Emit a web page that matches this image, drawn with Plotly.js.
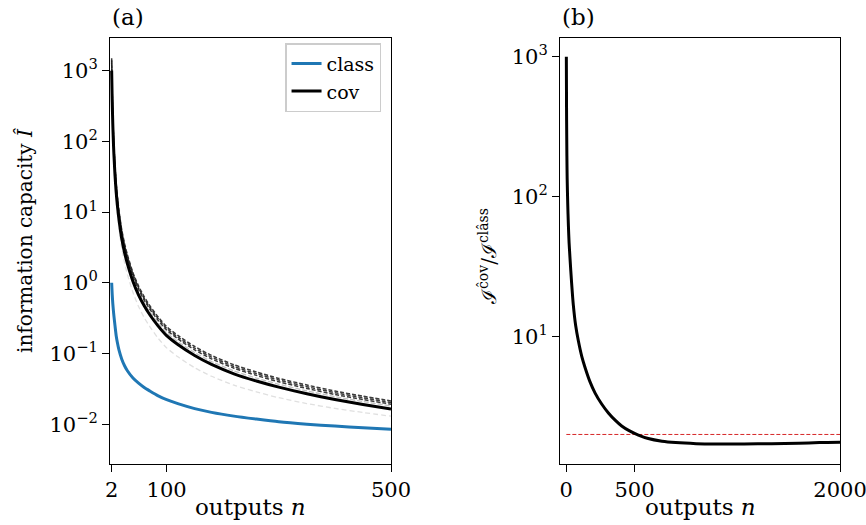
<!DOCTYPE html>
<html><head><meta charset="utf-8">
<script src="https://cdn.plot.ly/plotly-3.0.1.min.js"></script>
<style>html,body{margin:0;padding:0;background:#fff}#chart{width:866px;height:525px}</style>
</head><body><div id="chart"></div>
<script>
// ---- data ----
const outputsN = [2,3,4,5,6,8,10,12,15,20,25,30,40,50,60,70,85,100,120,150,180,220,260,300,350,400,450,500];
const capClass = [1.0,0.68,0.51,0.41,0.34,0.245,0.18,0.145,0.112,0.083,0.067,0.057,0.045,0.038,0.033,0.0295,0.0252,0.0222,0.0195,0.0166,0.0147,0.0130,0.0118,0.0108,0.0100,0.0094,0.0089,0.0085];
const capCov = [1000,363,177,101,65,32.7,19.2,12.8,7.9,4.18,2.67,1.86,1.04,0.668,0.473,0.353,0.244,0.179,0.134,0.0936,0.070,0.0516,0.0408,0.0334,0.0269,0.0223,0.0190,0.0164];
const capCovDashA = [1500,526,251,141,90,44.5,25.9,17.15,10.59,5.60,3.58,2.49,1.39,0.895,0.634,0.473,0.327,0.240,0.180,0.1254,0.0938,0.0691,0.0547,0.0444,0.0358,0.0294,0.0249,0.0213];
const capCovDashB = [1400,494,235,132,84.5,42.2,24.6,16.3,10.0,5.31,3.39,2.36,1.32,0.848,0.601,0.448,0.310,0.227,0.170,0.1189,0.0889,0.0655,0.0518,0.0421,0.0339,0.0279,0.02366,0.0203];
const capCovDashC = [1300,461,221,124,79.3,39.6,23.0,15.4,9.48,5.02,3.20,2.23,1.25,0.802,0.568,0.424,0.293,0.215,0.161,0.1123,0.084,0.0619,0.049,0.0397,0.0320,0.0263,0.02233,0.0192];
const capCovLightA = [1150,410,198,112,71.5,36.0,21.1,14.1,8.69,4.60,2.94,2.05,1.14,0.735,0.520,0.388,0.268,0.197,0.147,0.103,0.077,0.0568,0.0449,0.0367,0.0296,0.0245,0.0209,0.0181];
const capCovLightB = [850,298,142,79.8,50.7,25.2,14.6,9.6,5.85,3.05,1.92,1.32,0.728,0.461,0.322,0.240,0.1635,0.120,0.0898,0.0627,0.0476,0.0356,0.0286,0.0237,0.0196,0.0167,0.01463,0.01296];
const ratioN = [2,3,4,6,8,12,17,22,29,40,53,70,90,115,139,175,212,260,309,360,406,460,528,600,700,800,950,1100,1300,1500,1700,1850,2000];
const ratioCovClass = [1000,540,350,195,135,90,62,47,36,24.5,16.8,12.0,9.3,7.2,6.0,4.75,3.95,3.3,2.85,2.52,2.3,2.13,1.98,1.87,1.79,1.75,1.72,1.71,1.71,1.72,1.73,1.75,1.76];
const ratioRef = 2;

const xTicksA = [2, 100, 500];
const xTicksB = [0, 500, 2000];
const yTicksA = [1e-2, 1e-1, 1e0, 1e1, 1e2, 1e3];
const yTextA = ['10<sup>\u22122</sup>','10<sup>\u22121</sup>','10<sup>0</sup>','10<sup>1</sup>','10<sup>2</sup>','10<sup>3</sup>'];
const yTicksB = [1e1, 1e2, 1e3];
const yTextB = ['10<sup>1</sup>','10<sup>2</sup>','10<sup>3</sup>'];

// ---- axis config ----
const FONT = '"DejaVu Serif", serif';
const tickFont = {family: FONT, size: 21, color: '#000'};
const baseAxis = {
  showline: true, mirror: true, linecolor: '#000', linewidth: 1,
  ticks: 'outside', ticklen: 7, tickwidth: 1, tickcolor: '#000', ticklabeloverflow: 'allow',
  showgrid: false, zeroline: false, tickfont: tickFont, fixedrange: true
};
const rangeA = [-2.557, 3.461];
const rangeB = [0.093, 3.134];
const xRangeA = [-1, 500];
const xRangeB = [-44, 2000];
const domX1 = [0.127, 0.4515];
const domX2 = [0.6467, 0.97];
const domY = [0.117, 0.9276];

// minor log tick positions (2..9 x 10^k) inside an axis range
function minorVals(range) {
  const v = [];
  for (let e = -4; e <= 4; e++) for (let m = 2; m <= 9; m++) {
    const lv = Math.log10(m * Math.pow(10, e));
    if (lv > range[0] && lv < range[1]) v.push(m * Math.pow(10, e));
  }
  return v;
}
// x position 2 px left of the axis line (centre of a 4 px outside tick)
function tickCentreX(xr, dom) {
  const pxPerUnit = (dom[1] - dom[0]) * 866 / (xr[1] - xr[0]);
  return xr[0] - 2 / pxPerUnit;
}

const traces = [];
function dashed(y, color, width, dash) {
  traces.push({x: outputsN, y: y, type: 'scatter', mode: 'lines', showlegend: false,
    line: {color: color, width: width, dash: dash, shape: 'spline', smoothing: 0.6}, xaxis: 'x', yaxis: 'y', hoverinfo: 'skip'});
}
dashed(capCovLightB, '#e0e0e0', 1.3, '5px,3px');
dashed(capCovLightA, '#c0c0c0', 1.3, '5px,2px');
dashed(capCovDashC, 'rgba(25,25,25,0.85)', 1.5, '4px,2px');
dashed(capCovDashB, 'rgba(25,25,25,0.85)', 1.5, '4px,2px');
dashed(capCovDashA, 'rgba(25,25,25,0.85)', 1.5, '4px,2px');
traces.push({x: outputsN, y: capClass, type: 'scatter', mode: 'lines', name: 'class',
  line: {color: '#1f77b4', width: 3, shape: 'spline', smoothing: 0.6}, xaxis: 'x', yaxis: 'y'});
traces.push({x: outputsN, y: capCov, type: 'scatter', mode: 'lines', name: 'cov',
  line: {color: '#000000', width: 3, shape: 'spline', smoothing: 0.6}, xaxis: 'x', yaxis: 'y'});
traces.push({x: [ratioN[0], ratioN[ratioN.length - 1]], y: [ratioRef, ratioRef], type: 'scatter', mode: 'lines',
  showlegend: false, line: {color: '#d62728', width: 1, dash: '4px,2px'}, xaxis: 'x2', yaxis: 'y2'});
traces.push({x: ratioN, y: ratioCovClass, type: 'scatter', mode: 'lines', showlegend: false,
  line: {color: '#000000', width: 3, shape: 'spline', smoothing: 0.8}, xaxis: 'x2', yaxis: 'y2'});
// minor log ticks as short horizontal stroke markers just outside the left axis lines
const minA = minorVals(rangeA), minB = minorVals(rangeB);
traces.push({x: minA.map(() => tickCentreX(xRangeA, domX1)), y: minA, type: 'scatter', mode: 'markers', cliponaxis: false,
  showlegend: false, hoverinfo: 'skip', xaxis: 'x', yaxis: 'y',
  marker: {symbol: 'line-ew', size: 4, color: '#000', line: {width: 1, color: '#000'}}});
traces.push({x: minB.map(() => tickCentreX(xRangeB, domX2)), y: minB, type: 'scatter', mode: 'markers', cliponaxis: false,
  showlegend: false, hoverinfo: 'skip', xaxis: 'x2', yaxis: 'y2',
  marker: {symbol: 'line-ew', size: 4, color: '#000', line: {width: 1, color: '#000'}}});

const layout = {
  width: 866, height: 525,
  margin: {l: 0, r: 0, t: 0, b: 0},
  paper_bgcolor: '#fff', plot_bgcolor: '#fff',
  font: {family: FONT, color: '#000'},
  showlegend: true,
  legend: {x: 0.44, xanchor: 'right', y: 0.918, yanchor: 'top',
    bgcolor: '#fff', bordercolor: '#cccccc', borderwidth: 1.5,
    font: {family: FONT, size: 19, color: '#000'}},
  xaxis: Object.assign({}, baseAxis, {domain: domX1, range: xRangeA,
    tickmode: 'array', tickvals: xTicksA, ticktext: xTicksA.map(String), anchor: 'y'}),
  yaxis: Object.assign({}, baseAxis, {domain: domY, type: 'log', range: rangeA,
    tickmode: 'array', tickvals: yTicksA, ticktext: yTextA, anchor: 'x'}),
  xaxis2: Object.assign({}, baseAxis, {domain: domX2, range: xRangeB,
    tickmode: 'array', tickvals: xTicksB, ticktext: xTicksB.map(String), anchor: 'y2'}),
  yaxis2: Object.assign({}, baseAxis, {domain: domY, type: 'log', range: rangeB,
    tickmode: 'array', tickvals: yTicksB, ticktext: yTextB, anchor: 'x2'}),
  annotations: [
    {text: '(a)', xref: 'paper', yref: 'paper', x: 0.127, y: 0.94, xanchor: 'left', yanchor: 'bottom', showarrow: false, font: {family: FONT, size: 23}},
    {text: '(b)', xref: 'paper', yref: 'paper', x: 0.6467, y: 0.94, xanchor: 'left', yanchor: 'bottom', showarrow: false, font: {family: FONT, size: 23}},
    {text: 'outputs <i>n</i>', xref: 'paper', yref: 'paper', x: 0.289, y: 1 - 507/525, xanchor: 'center', yanchor: 'middle', showarrow: false, font: {family: FONT, size: 23}},
    {text: 'outputs <i>n</i>', xref: 'paper', yref: 'paper', x: 700/866, y: 1 - 507/525, xanchor: 'center', yanchor: 'middle', showarrow: false, font: {family: FONT, size: 23}},
    {text: 'information capacity <i>\u00ce</i>', xref: 'paper', yref: 'paper', x: 25/866, y: 1 - 240/525, xanchor: 'center', yanchor: 'middle', textangle: -90, showarrow: false, font: {family: FONT, size: 20}},
    {text: '\u2110<sup>\u0109ov</sup>/\u2110<sup>cl\u00e2ss</sup>', xref: 'paper', yref: 'paper', x: 488/866, y: 1 - 257/525, xanchor: 'center', yanchor: 'middle', textangle: -90, showarrow: false, font: {family: FONT, size: 20}}
  ]
};

Plotly.newPlot('chart', traces, layout, {staticPlot: true, displayModeBar: false});
</script>
</body></html>
